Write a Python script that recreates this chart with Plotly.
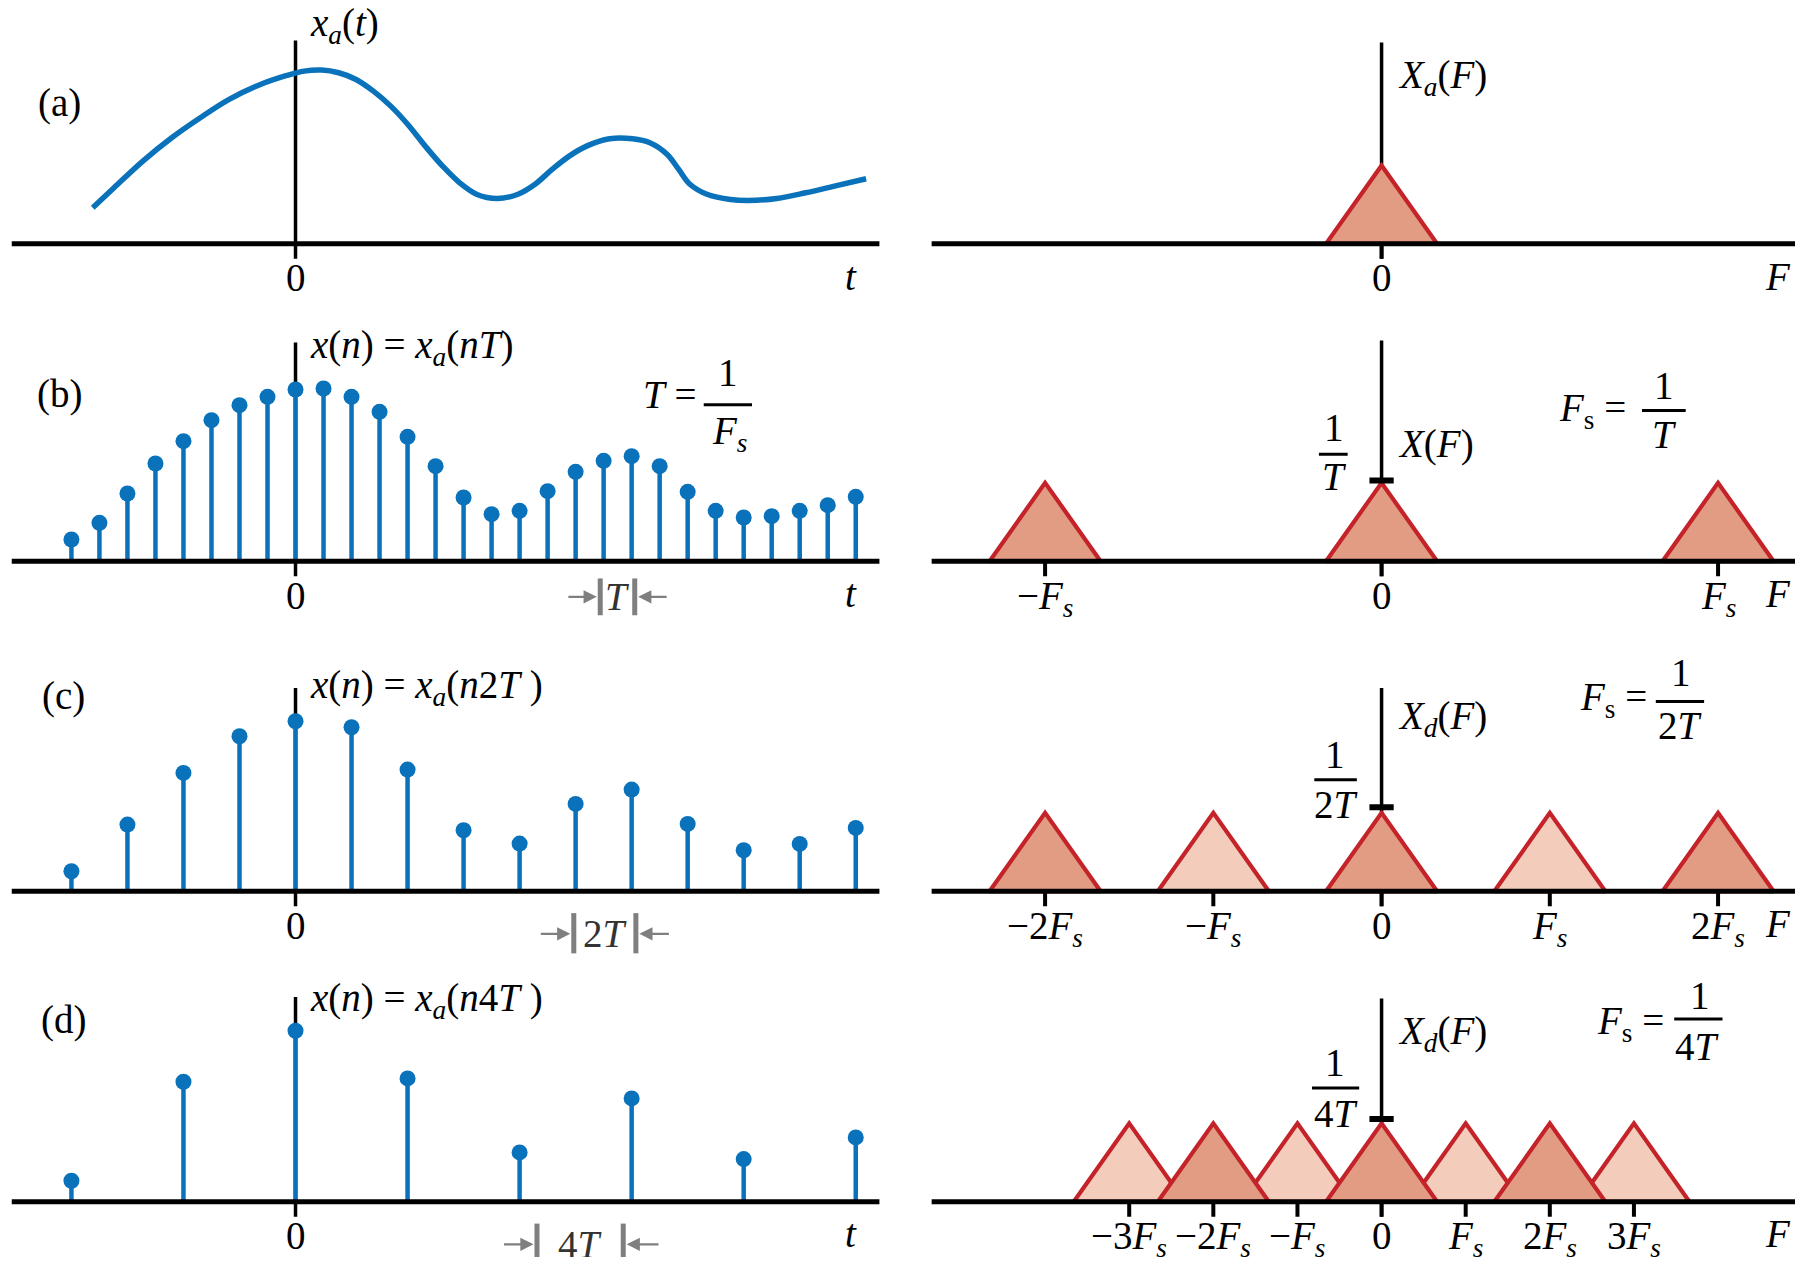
import plotly.graph_objects as go

W, H = 1803, 1265
SX, SY = W / 1568, H / 1100   # reference-display px -> page px
OFF = 8                        # default body margin of the html page
FW, FH = W - 2 * OFF, H - 2 * OFF

# ---------------- data ----------------
# (a) continuous signal x_a(t); t in units of T, amplitude in arbitrary units
curve_t = [-7.24, -6.48, -5.45, -4.42, -3.40, -2.37, -1.34, -0.31, 0.31, 0.93, 1.54, 2.16,
           2.78, 3.40, 4.01, 4.63, 5.25, 5.86, 6.48, 7.20, 7.92, 8.54, 9.16, 9.77, 10.39,
           11.21, 12.04, 12.65, 13.27, 13.68, 14.09, 14.71, 15.53, 16.15, 17.18, 18.21,
           19.24, 20.37]
curve_x = [1.08, 1.68, 2.48, 3.18, 3.78, 4.33, 4.75, 5.05, 5.18, 5.21, 5.13, 4.93,
           4.58, 4.13, 3.58, 2.93, 2.33, 1.83, 1.48, 1.36, 1.48, 1.78, 2.23, 2.63, 2.93,
           3.15, 3.15, 3.03, 2.68, 2.23, 1.78, 1.48, 1.33, 1.30, 1.36, 1.53, 1.73, 1.95]

# (b) samples every T
t_b = list(range(-8, 21))
x_b = [0.65, 1.15, 2.03, 2.93, 3.60, 4.23, 4.68, 4.93, 5.15, 5.18, 4.93, 4.48, 3.73, 2.85,
       1.91, 1.41, 1.51, 2.10, 2.68, 3.01, 3.15, 2.85, 2.08, 1.51, 1.31, 1.35, 1.51, 1.68, 1.93]
# (c) samples every 2T
t_c = list(range(-8, 21, 2))
x_c = [0.60, 2.00, 3.55, 4.65, 5.10, 4.92, 3.65, 1.83, 1.43, 2.62, 3.05, 2.02, 1.23, 1.42, 1.90]
# (d) samples every 4T
t_d = list(range(-8, 21, 4))
x_d = [0.63, 3.60, 5.13, 3.70, 1.48, 3.10, 1.28, 1.93]

# spectra: centres in units of 1/T, shade of each replica
spec_centers = [[0], [-1, 0, 1], [-1, -0.5, 0, 0.5, 1],
                [-0.75, -0.5, -0.25, 0, 0.25, 0.5, 0.75]]
spec_shade = [["dark"], ["dark"] * 3, ["dark", "light", "dark", "light", "dark"],
              ["light", "dark", "light", "dark", "light", "dark", "light"]]
spec_height = 2.35
spec_halfwidth = 0.165
amp_tick = [None, 2.42, 2.52, 2.48]

freq_ticks = [[0], [-1, 0, 1], [-1, -0.5, 0, 0.5, 1],
              [-0.75, -0.5, -0.25, 0, 0.25, 0.5, 0.75]]
freq_labels = [["0"],
               ["−<i>F</i><sub><i>s</i></sub>", "0", "<i>F</i><sub><i>s</i></sub>"],
               ["−2<i>F</i><sub><i>s</i></sub>", "−<i>F</i><sub><i>s</i></sub>", "0",
                "<i>F</i><sub><i>s</i></sub>", "2<i>F</i><sub><i>s</i></sub>"],
               ["−3<i>F</i><sub><i>s</i></sub>", "−2<i>F</i><sub><i>s</i></sub>",
                "−<i>F</i><sub><i>s</i></sub>", "0", "<i>F</i><sub><i>s</i></sub>",
                "2<i>F</i><sub><i>s</i></sub>", "3<i>F</i><sub><i>s</i></sub>"]]

# ---------------- style / layout constants ----------------
BLUE = "#0a72ba"
RED = "#c4232a"
FILL = {"dark": "#e39c84", "light": "#f3ccbc"}
GRAY = "#7f7f7f"
FONT = "Liberation Serif, Times New Roman, serif"
FS = 39

U = 28.99                      # display px per amplitude unit
T_PX = 24.36                   # display px per T (left)
F_PX = 293.0                   # display px per 1/T (right)
L0, L1, LZ = 10, 765, 257      # left panel: x extent and t=0
R0, R1, RZ = 810, 1562, 1202   # right panel: x extent and F=0
row_axis_y = [212, 488, 775, 1045]
YMIN, YMAX = -1.5, 7.0
left_vtop = [6.1, 6.56, 6.1, 6.14]
right_vtop = [6.04, 6.62, 6.1, 6.1]
VBOT = -0.45


def px(dx):
    return (dx * SX - OFF) / FW


def py(dy):
    return 1 - (dy * SY - OFF) / FH


fig = go.Figure()
layout = dict(width=FW, height=FH, margin=dict(l=0, r=0, t=0, b=0),
              paper_bgcolor="white", plot_bgcolor="rgba(0,0,0,0)", showlegend=False)

left_range = [(L0 - LZ) / T_PX, (L1 - LZ) / T_PX]
right_range = [(R0 - RZ) / F_PX, (R1 - RZ) / F_PX]

for r in range(4):
    ybot = row_axis_y[r] - YMIN * U
    ytop = ybot - (YMAX - YMIN) * U
    for side in range(2):
        idx = 2 * r + side + 1
        sfx = "" if idx == 1 else str(idx)
        layout["xaxis" + sfx] = dict(
            domain=[px(L0), px(L1)] if side == 0 else [px(R0), min(1.0, px(R1))],
            range=left_range if side == 0 else right_range,
            visible=False, fixedrange=True, anchor="y" + sfx)
        layout["yaxis" + sfx] = dict(
            domain=[max(0.0, py(ybot)), py(ytop)], range=[YMIN, YMAX],
            visible=False, fixedrange=True, anchor="x" + sfx)

# keep the bottom row's unit scale even if its domain is clipped at the page bottom
ybot_d = row_axis_y[3] - YMIN * U
if py(ybot_d) < 0:
    frac_lost = -py(ybot_d) / (py(ybot_d - (YMAX - YMIN) * U) - py(ybot_d))
    layout["yaxis7"]["range"] = [YMIN + frac_lost * (YMAX - YMIN), YMAX]
    layout["yaxis8"]["range"] = [YMIN + frac_lost * (YMAX - YMIN), YMAX]

axis_line = dict(color="black", width=5)
vline = dict(color="black", width=3.5)

sample_sets = [None, (t_b, x_b), (t_c, x_c), (t_d, x_d)]

for r in range(4):
    li, ri = 2 * r + 1, 2 * r + 2
    xl = "x" if li == 1 else "x%d" % li
    yl = "y" if li == 1 else "y%d" % li
    xr, yr = "x%d" % ri, "y%d" % ri

    # ---------- left: time domain ----------
    fig.add_trace(go.Scatter(x=[0, 0], y=[VBOT, left_vtop[r]], mode="lines",
                             line=vline, xaxis=xl, yaxis=yl, hoverinfo="skip"))
    if r == 0:
        fig.add_trace(go.Scatter(x=curve_t, y=curve_x, mode="lines",
                                 line=dict(color=BLUE, width=5.5, shape="spline", smoothing=1.0),
                                 xaxis=xl, yaxis=yl, hoverinfo="skip"))
    else:
        ts, xs = sample_sets[r]
        sx, sy = [], []
        for t, v in zip(ts, xs):
            sx += [t, t, None]
            sy += [0, v, None]
        fig.add_trace(go.Scatter(x=sx, y=sy, mode="lines", line=dict(color=BLUE, width=4.5),
                                 xaxis=xl, yaxis=yl, hoverinfo="skip"))
        fig.add_trace(go.Scatter(x=ts, y=xs, mode="markers",
                                 marker=dict(color=BLUE, size=16),
                                 xaxis=xl, yaxis=yl, hoverinfo="skip"))
    fig.add_trace(go.Scatter(x=left_range, y=[0, 0], mode="lines", line=axis_line,
                             xaxis=xl, yaxis=yl, hoverinfo="skip"))

    # ---------- right: frequency domain ----------
    fig.add_trace(go.Scatter(x=[0, 0], y=[VBOT, right_vtop[r]], mode="lines",
                             line=vline, xaxis=xr, yaxis=yr, hoverinfo="skip"))
    for shade in ("light", "dark"):
        for c, s in zip(spec_centers[r], spec_shade[r]):
            if s != shade:
                continue
            fig.add_trace(go.Scatter(
                x=[c - spec_halfwidth, c, c + spec_halfwidth, c - spec_halfwidth],
                y=[0, spec_height, 0, 0], mode="lines", fill="toself",
                fillcolor=FILL[s], line=dict(color=RED, width=4.2),
                xaxis=xr, yaxis=yr, hoverinfo="skip"))
    # ticks under frequency axis
    tx, ty = [], []
    for f in freq_ticks[r]:
        tx += [f, f, None]
        ty += [0, VBOT, None]
    fig.add_trace(go.Scatter(x=tx, y=ty, mode="lines", line=dict(color="black", width=4),
                             xaxis=xr, yaxis=yr, hoverinfo="skip"))
    fig.add_trace(go.Scatter(x=right_range, y=[0, 0], mode="lines", line=axis_line,
                             xaxis=xr, yaxis=yr, hoverinfo="skip"))
    if amp_tick[r] is not None:
        fig.add_trace(go.Scatter(x=[-0.036, 0.036], y=[amp_tick[r]] * 2, mode="lines",
                                 line=dict(color="black", width=6),
                                 xaxis=xr, yaxis=yr, hoverinfo="skip"))
    # tick labels (frequency)
    lab_y = row_axis_y[r] + 9
    for f, lab in zip(freq_ticks[r], freq_labels[r]):
        fig.add_annotation(x=f, y=py(lab_y), xref=xr, yref="paper", text=lab,
                           showarrow=False, xanchor="center", yanchor="top",
                           font=dict(family=FONT, size=FS, color="black"))

annotations = []
shapes = []


def txt(x, y, s, xanchor="center", yanchor="middle", color="black", size=FS):
    annotations.append(dict(x=px(x), y=py(y), xref="paper", yref="paper", text=s,
                            showarrow=False, xanchor=xanchor, yanchor=yanchor,
                            font=dict(family=FONT, size=size, color=color)))


def bar(x0, x1, y, color="black", width=3):
    shapes.append(dict(type="line", xref="paper", yref="paper", x0=px(x0), x1=px(x1),
                       y0=py(y), y1=py(y), line=dict(color=color, width=width)))


def vbar(x, y0, y1, color=GRAY, width=5):
    shapes.append(dict(type="line", xref="paper", yref="paper", x0=px(x), x1=px(x),
                       y0=py(y0), y1=max(0.0, py(y1)), line=dict(color=color, width=width)))


def arrow(tail, head, y):
    annotations.append(dict(x=px(head), y=py(y), xref="paper", yref="paper", text="",
                            showarrow=True, ax=(tail - head) * SX, ay=0,
                            arrowhead=2, arrowsize=1.2, arrowwidth=2.2, arrowcolor=GRAY))


# panel letters
txt(52, 90, "(a)")
txt(52, 343, "(b)")
txt(55, 605, "(c)")
txt(55, 887, "(d)")

# time-axis labels
for yv in (212, 488, 1045):
    txt(740, yv + 28, "<i>t</i>")
for yv in (212, 488, 775, 1045):
    annotations.append(dict(x=px(LZ), y=py(yv + 9), xref="paper", yref="paper", text="0",
                            showarrow=False, xanchor="center", yanchor="top",
                            font=dict(family=FONT, size=FS, color="black")))
# frequency-axis "F"
for yv in (212, 488, 775, 1045):
    txt(1546, yv + 28, "<i>F</i>")

# signal labels
txt(268, 22, "<i>x</i><sub><i>a</i></sub>(<i>t</i>)", xanchor="left")
txt(268, 302, "<i>x</i>(<i>n</i>) = <i>x</i><sub><i>a</i></sub>(<i>nT</i>)", xanchor="left")
txt(268, 598, "<i>x</i>(<i>n</i>) = <i>x</i><sub><i>a</i></sub>(<i>n</i>2<i>T</i> )", xanchor="left")
txt(268, 870, "<i>x</i>(<i>n</i>) = <i>x</i><sub><i>a</i></sub>(<i>n</i>4<i>T</i> )", xanchor="left")

# T = 1/Fs
txt(607, 343, "<i>T</i> =", xanchor="right")
txt(633, 324, "1")
bar(612, 654, 352)
txt(634, 377, "<i>F</i><sub><i>s</i></sub>")

# spectrum labels
txt(1214, 67, "<i>X</i><sub><i>a</i></sub>(<i>F</i>)", xanchor="left")
txt(1214, 386, "<i>X</i>(<i>F</i>)", xanchor="left")
txt(1214, 625, "<i>X</i><sub><i>d</i></sub>(<i>F</i>)", xanchor="left")
txt(1214, 899, "<i>X</i><sub><i>d</i></sub>(<i>F</i>)", xanchor="left")

# amplitude fractions
txt(1160, 372, "1"); bar(1147, 1172, 395); txt(1160, 414, "<i>T</i>")
txt(1161, 656, "1"); bar(1143, 1180, 678); txt(1162, 700, "2<i>T</i>")
txt(1161, 924, "1"); bar(1141, 1182, 946); txt(1162, 968, "4<i>T</i>")

# Fs = 1/T, 1/2T, 1/4T
txt(1385, 357, "<i>F</i><sub>s</sub> =")
txt(1447, 335, "1"); bar(1428, 1466, 357); txt(1447, 378, "<i>T</i>")
txt(1403, 608, "<i>F</i><sub>s</sub> =")
txt(1462, 585, "1"); bar(1440, 1482, 610); txt(1461, 631, "2<i>T</i>")
txt(1418, 890, "<i>F</i><sub>s</sub> =")
txt(1478, 866, "1"); bar(1456, 1498, 886); txt(1476, 910, "4<i>T</i>")

# sampling-period markers
vbar(522, 503, 535); vbar(552, 503, 535)
txt(537, 519, "<i>T</i>", color="#333333")
arrow(493, 519, 519); arrow(581, 555, 519)

vbar(499, 794, 829); vbar(553, 794, 829)
txt(526, 812, "2<i>T</i>", color="#333333")
arrow(469, 496, 812); arrow(583, 556, 812)

vbar(467, 1064, 1100); vbar(542, 1064, 1100)
txt(504, 1082, "4<i>T</i>", color="#333333")
arrow(437, 464, 1082); arrow(574, 545, 1082)

layout["annotations"] = list(fig.layout.annotations) + annotations
layout["shapes"] = shapes
fig.update_layout(**layout)
fig.write_html("out.html")
